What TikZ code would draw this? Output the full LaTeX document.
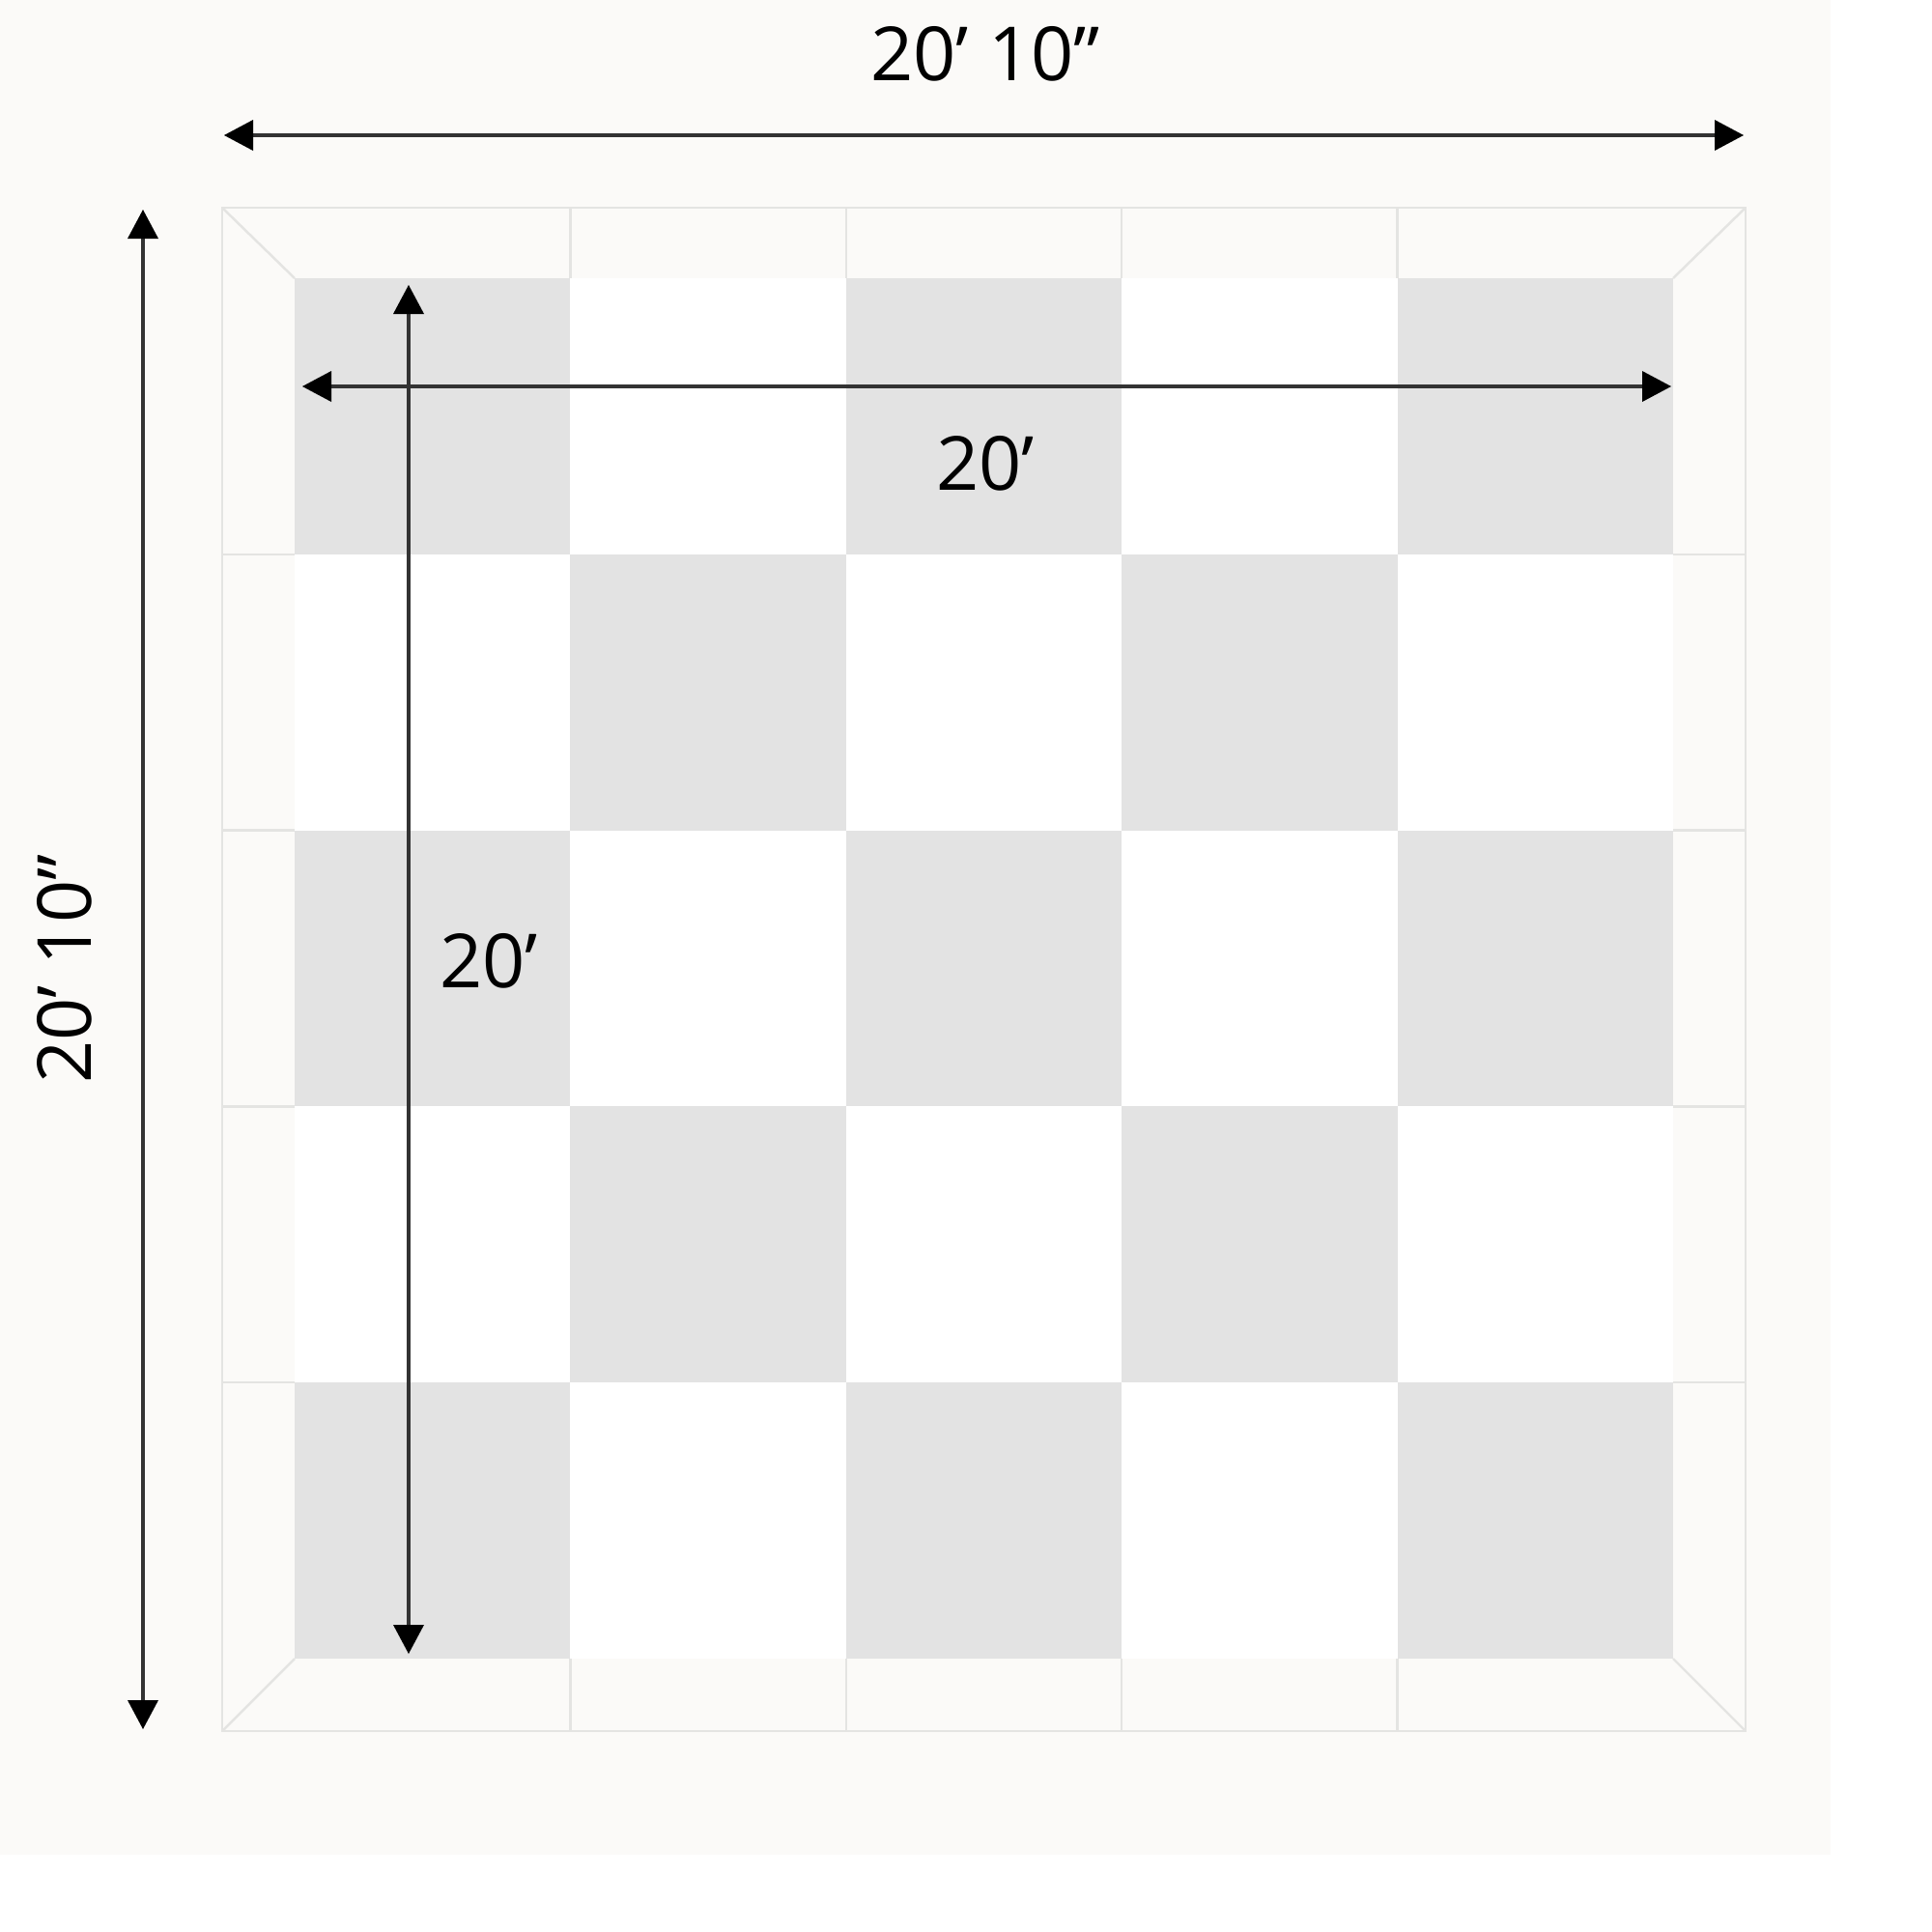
\documentclass[tikz,border=0pt]{standalone}
\usepackage{fontspec}
\setmainfont{Open Sans}
\usetikzlibrary{arrows.meta}
\definecolor{paper}{HTML}{FBFAF8}
\definecolor{tile}{HTML}{E3E3E3}
\definecolor{seam}{HTML}{E4E4E2}
\tikzset{
  dimline/.style={black!80,line width=0.9pt,{Triangle[length=3mm,width=3.2mm,color=black,line width=0pt]}-{Triangle[length=3mm,width=3.2mm,color=black,line width=0pt]}},
  dimlabel/.style={font=\fontsize{22}{26}\selectfont,inner sep=0pt},
  seamline/.style={seam,line width=0.7pt}
}
\begin{document}
\begin{tikzpicture}
		\useasboundingbox (0,0) rectangle (20,-20);
		\fill[white] (0,0) rectangle (20,-20);
		\fill[paper] (0,0) rectangle (18.95,-19.2);

		% Frame round the floor
		\draw[seamline,fill=paper] (2.30,-2.15) rectangle (18.07,-17.92);
		\foreach \k in {1,...,4} {
			\draw[seamline] ({3.05+2.854*\k},-2.15) -- ({3.05+2.854*\k},-2.88);
			\draw[seamline] ({3.05+2.854*\k},-17.17) -- ({3.05+2.854*\k},-17.92);
			\draw[seamline] (2.30,{-2.88-2.858*\k}) -- (3.05,{-2.88-2.858*\k});
			\draw[seamline] (17.32,{-2.88-2.858*\k}) -- (18.07,{-2.88-2.858*\k});
		}
		\draw[seamline] (2.30,-2.15) -- (3.05,-2.88);
		\draw[seamline] (18.07,-2.15) -- (17.32,-2.88);
		\draw[seamline] (2.30,-17.92) -- (3.05,-17.17);
		\draw[seamline] (18.07,-17.92) -- (17.32,-17.17);

		% Checkered floor
		\fill[white] (3.05,-2.88) rectangle (17.32,-17.17);
		\foreach \i in {0,...,4} {
			\foreach \j in {0,...,4} {
				\pgfmathtruncatemacro{\odd}{mod(\i+\j,2)}
				\ifnum\odd=0
					\fill[tile] ({3.05+2.854*\i},{-2.88-2.858*\j}) rectangle ++(2.854,-2.858);
				\fi
			}
		}

		% Outer size
		\coordinate (topL) at (2.32,-1.40);
		\coordinate (topR) at (18.05,-1.40);
		\draw[dimline] (topL) -- (topR);
		\node[dimlabel] (topW) at (10.20,-0.56) {20’ 10”};

		\coordinate (sideT) at (1.48,-2.17);
		\coordinate (sideB) at (1.48,-17.90);
		\draw[dimline] (sideT) -- (sideB);
		\node[dimlabel,rotate=90] (sideH) at (0.67,-10.03) {20’ 10”};

		% Inner size
		\coordinate (inL) at (3.13,-4.00);
		\coordinate (inR) at (17.30,-4.00);
		\draw[dimline] (inL) -- (inR);
		\node[dimlabel] (inW) at (10.20,-4.80) {20’};

		\coordinate (inT) at (4.23,-2.95);
		\coordinate (inB) at (4.23,-17.12);
		\draw[dimline] (inT) -- (inB);
		\node[dimlabel] (inH) at (5.06,-9.95) {20’};
	\end{tikzpicture}
\end{document}
